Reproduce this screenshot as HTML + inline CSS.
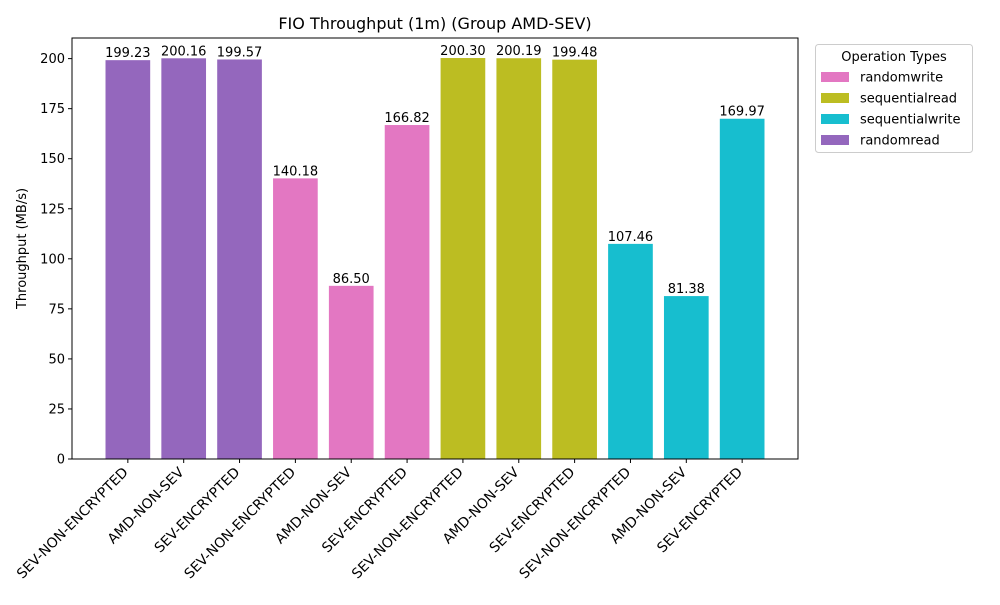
<!DOCTYPE html>
<html><head><meta charset="utf-8"><style>
body{margin:0;background:#fff;font-family:"Liberation Sans","DejaVu Sans",sans-serif;}
svg text{font-family:"DejaVu Sans","Liberation Sans",sans-serif;}
</style></head><body>
<svg id="c" width="1000" height="600" xmlns="http://www.w3.org/2000/svg"></svg>
<script>
const categories=["SEV-NON-ENCRYPTED","AMD-NON-SEV","SEV-ENCRYPTED","SEV-NON-ENCRYPTED","AMD-NON-SEV","SEV-ENCRYPTED","SEV-NON-ENCRYPTED","AMD-NON-SEV","SEV-ENCRYPTED","SEV-NON-ENCRYPTED","AMD-NON-SEV","SEV-ENCRYPTED"];
const values=[199.23,200.16,199.57,140.18,86.50,166.82,200.30,200.19,199.48,107.46,81.38,169.97];
const groups=["randomread","randomread","randomread","randomwrite","randomwrite","randomwrite","sequentialread","sequentialread","sequentialread","sequentialwrite","sequentialwrite","sequentialwrite"];
const yTicks=[0,25,50,75,100,125,150,175,200];
const legendItems=["randomwrite","sequentialread","sequentialwrite","randomread"];
const colorOf={randomread:"#9467bd",randomwrite:"#e377c2",sequentialread:"#bcbd22",sequentialwrite:"#17becf"};
const L=72,R=798,T=38,B=459,ymax=210.3;
const NS="http://www.w3.org/2000/svg",svg=document.getElementById('c');
const x=i=>L+(i+1)*(R-L)/(categories.length+1);
const y=v=>B-v/ymax*(B-T);
const bw=0.8*(R-L)/(categories.length+1);
function el(t,a,txt){const e=document.createElementNS(NS,t);for(const k in a)e.setAttribute(k,a[k]);if(txt!=null)e.textContent=txt;svg.appendChild(e);return e;}
let e=el('text',{x:(L+R)/2,y:29,'text-anchor':'middle','font-size':16},'FIO Throughput (1m) (Group AMD-SEV)');


values.forEach((v,i)=>{
 let r=el('rect',{x:x(i)-bw/2,y:y(v),width:bw,height:B-y(v),fill:colorOf[groups[i]]});
 
 
 let t=el('text',{x:x(i),y:y(v)-3,'text-anchor':'middle','font-size':13},v.toFixed(2));
 
 
 el('line',{x1:x(i),x2:x(i),y1:B,y2:B+4,stroke:'#000'});
 let l=el('text',{x:0,y:0,'text-anchor':'end','font-size':13.9,transform:`translate(${x(i)+1},${B+14}) rotate(-45)`},categories[i]);
 
 
});
yTicks.forEach(v=>{
 el('line',{x1:L-4,x2:L,y1:y(v),y2:y(v),stroke:'#000'});
 let t=el('text',{x:L-7,y:y(v)+4.5,'text-anchor':'end','font-size':13},v);
 
 
});
el('rect',{x:L,y:T,width:R-L,height:B-T,fill:'none',stroke:'#000','stroke-width':1});
e=el('text',{x:0,y:0,'text-anchor':'middle','font-size':13,transform:`translate(26,${(T+B)/2}) rotate(-90)`},'Throughput (MB/s)');


e=el('rect',{x:815.5,y:44.5,width:157,height:108,rx:3,fill:'#fff',stroke:'#ccc'});


el('text',{x:894,y:61,'text-anchor':'middle','font-size':13},'Operation Types');
legendItems.forEach((g,k)=>{
 const yy=77+k*21;
 let p=el('rect',{x:821,y:yy-5,width:28,height:10,fill:colorOf[g]});
 
 
 let t=el('text',{x:860,y:yy+4.5,'font-size':13},g);
 
 
});
</script>
</body></html>
